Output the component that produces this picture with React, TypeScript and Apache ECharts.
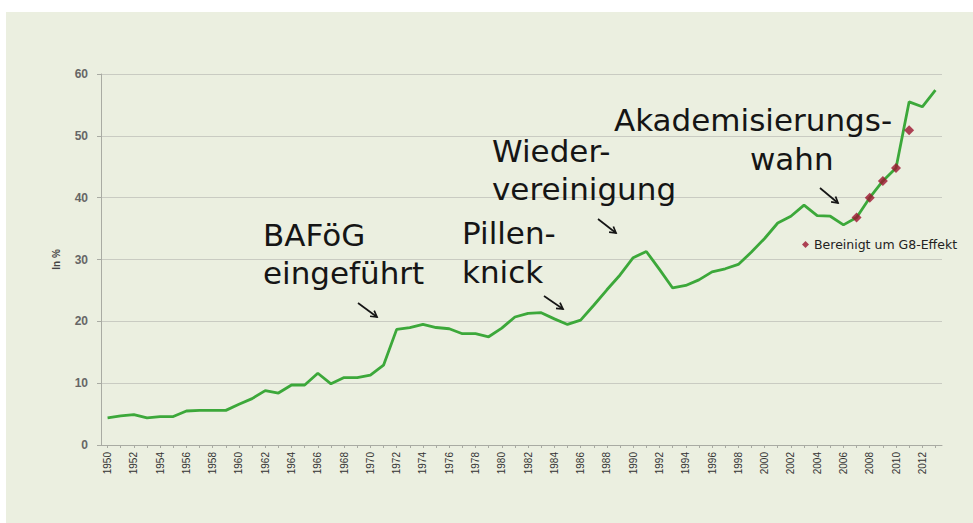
import React, { useEffect, useRef } from "react";
import * as echarts from "echarts";

const years = [
  "1950", "1951", "1952", "1953", "1954", "1955", "1956", "1957", "1958", "1959",
  "1960", "1961", "1962", "1963", "1964", "1965", "1966", "1967", "1968", "1969",
  "1970", "1971", "1972", "1973", "1974", "1975", "1976", "1977", "1978", "1979",
  "1980", "1981", "1982", "1983", "1984", "1985", "1986", "1987", "1988", "1989",
  "1990", "1991", "1992", "1993", "1994", "1995", "1996", "1997", "1998", "1999",
  "2000", "2001", "2002", "2003", "2004", "2005", "2006", "2007", "2008", "2009",
  "2010", "2011", "2012", "2013",
];

const quote = [
  4.4, 4.7, 4.9, 4.4, 4.6, 4.6, 5.5, 5.6, 5.6, 5.6,
  6.6, 7.5, 8.8, 8.4, 9.7, 9.7, 11.6, 9.9, 10.9, 10.9,
  11.3, 12.9, 18.7, 19.0, 19.5, 19.0, 18.8, 18.0, 18.0, 17.5,
  18.9, 20.7, 21.3, 21.4, 20.4, 19.5, 20.2, 22.6, 25.1, 27.5,
  30.3, 31.3, 28.4, 25.4, 25.8, 26.7, 28.0, 28.5, 29.2, 31.2,
  33.4, 35.9, 37.0, 38.8, 37.1, 37.0, 35.6, 36.8, 40.0, 42.7,
  44.8, 55.5, 54.7, 57.4,
];

const g8Years = ["2007", "2008", "2009", "2010", "2011"];
const g8Values = [36.8, 40.0, 42.7, 44.8, 50.9];

const yTicks = [0, 10, 20, 30, 40, 50, 60];

const annotationLines = [
  { text: "BAFöG", x: 263, baseline: 246 },
  { text: "eingeführt", x: 263, baseline: 284 },
  { text: "Pillen-", x: 462, baseline: 244 },
  { text: "knick", x: 462, baseline: 283 },
  { text: "Wieder-", x: 492, baseline: 162 },
  { text: "vereinigung", x: 492, baseline: 200 },
  { text: "Akademisierungs-", x: 614, baseline: 131 },
  { text: "wahn", x: 750, baseline: 170 },
];

const arrows = [
  [358, 303, 377, 317],
  [544, 296, 563, 309],
  [598, 219, 616, 233],
  [820, 188, 838, 203],
];

export default function App() {
  const ref = useRef<HTMLDivElement>(null);

  useEffect(() => {
    if (!ref.current) return;
    const chart = echarts.init(ref.current, undefined, { renderer: "svg" });

    const fontSize = 31;
    const graphics: any[] = [
      {
        type: "rect",
        z: -10,
        silent: true,
        shape: { x: 6, y: 12, width: 973 - 6, height: 523 - 12 },
        style: { fill: "#ebefe0" },
      },
    ];
    annotationLines.forEach((a) => {
      graphics.push({
        type: "text",
        x: a.x,
        y: a.baseline - fontSize * 0.35,
        style: {
          text: a.text,
          fontFamily: "DejaVu Sans",
          fontSize,
          fill: "#151515",
          verticalAlign: "middle",
          align: "left",
        },
        z: 10,
      });
    });
    arrows.forEach(([x1, y1, x2, y2]) => {
      const dx = x2 - x1;
      const dy = y2 - y1;
      const len = Math.sqrt(dx * dx + dy * dy);
      const ux = dx / len;
      const uy = dy / len;
      const h = 7;
      const ang = Math.PI / 6;
      const c = Math.cos(ang);
      const s = Math.sin(ang);
      const p1 = [x2 - h * (ux * c - uy * s), y2 - h * (uy * c + ux * s)];
      const p2 = [x2 - h * (ux * c + uy * s), y2 - h * (uy * c - ux * s)];
      graphics.push({
        type: "line",
        shape: { x1, y1, x2, y2 },
        style: { stroke: "#151515", lineWidth: 1.7 },
        z: 10,
      });
      graphics.push({
        type: "polyline",
        shape: { points: [p1, [x2, y2], p2] },
        style: { stroke: "#151515", lineWidth: 1.7, fill: "none" },
        z: 10,
      });
    });

    chart.setOption({
      animation: false,
      backgroundColor: "#ffffff",
      graphic: graphics,
      grid: { left: 101, right: 31, top: 74, bottom: 78, containLabel: false },
      legend: {
        data: [{ name: "Bereinigt um G8-Effekt", icon: "diamond" }],
        left: 797,
        top: 233,
        itemWidth: 7,
        itemHeight: 7,
        itemGap: 4,
        textStyle: { fontFamily: "DejaVu Sans", fontSize: 12.5, color: "#222" },
      },
      xAxis: {
        type: "category",
        data: years,
        boundaryGap: true,
        axisLine: { lineStyle: { color: "#a9aba3", width: 1 } },
        axisTick: {
          show: true,
          interval: 0,
          alignWithLabel: true,
          length: 3,
          lineStyle: { color: "#a9aba3" },
        },
        axisLabel: {
          interval: 1,
          rotate: 90,
          margin: 7,
          fontFamily: "Liberation Sans",
          fontSize: 10,
          color: "#333",
        },
        splitLine: { show: false },
      },
      yAxis: {
        type: "value",
        min: yTicks[0],
        max: yTicks[yTicks.length - 1],
        interval: 10,
        name: "In %",
        nameLocation: "middle",
        nameGap: 40,
        nameRotate: 90,
        nameTextStyle: {
          fontFamily: "Liberation Sans",
          fontSize: 10,
          fontWeight: "bold",
          color: "#444",
        },
        axisLine: { show: true, lineStyle: { color: "#a9aba3", width: 1 } },
        axisTick: { show: true, length: 4, lineStyle: { color: "#a9aba3" } },
        axisLabel: {
          margin: 13,
          fontFamily: "Liberation Sans",
          fontSize: 12,
          fontWeight: "bold",
          color: "#666",
        },
        splitLine: { show: true, lineStyle: { color: "#c9cbc2", width: 1 } },
      },
      series: [
        {
          name: "Studienanfängerquote",
          type: "line",
          data: quote,
          symbol: "none",
          lineStyle: { color: "#3ca83a", width: 2.8 },
          z: 3,
        },
        {
          name: "Bereinigt um G8-Effekt",
          type: "scatter",
          data: g8Years.map((y, i) => [y, g8Values[i]]),
          symbol: "diamond",
          symbolSize: 10,
          itemStyle: { color: "#9c1430" },
          z: 4,
        },
      ],
    });

    return () => chart.dispose();
  }, []);

  return (
    <div
      ref={ref}
      style={{ position: "fixed", left: 0, top: 0, width: 973, height: 523 }}
    />
  );
}
